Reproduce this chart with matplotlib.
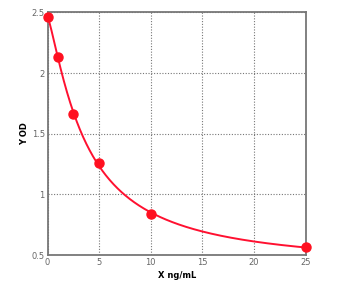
import numpy as np
import matplotlib
matplotlib.use("Agg")
import matplotlib.pyplot as plt

# standard curve points
conc = [0, 1, 2.5, 5, 10, 25]
od = [2.46, 2.13, 1.66, 1.256, 0.84, 0.563]

x_ticks = [0, 5, 10, 15, 20, 25]
y_ticks = [0.5, 1, 1.5, 2, 2.5]
y_tick_labels = ["0.5", "1", "1.5", "2", "2.5"]

# four parameter logistic fit: grid over c, b, linear least squares for a, d
x = np.array(conc, float)
y = np.array(od, float)
best = None
for c in np.linspace(1, 15, 141):
    for b in np.linspace(0.5, 3, 126):
        g = 1.0 / (1.0 + (x / c) ** b)
        A = np.column_stack([g, 1 - g])
        coef, *_ = np.linalg.lstsq(A, y, rcond=None)
        err = np.sum((A @ coef - y) ** 2)
        if best is None or err < best[0]:
            best = (err, c, b, coef)
_, c, b, (a, d) = best

xs = np.linspace(0, 25, 400)
gs = 1.0 / (1.0 + (xs / c) ** b)
ys = a * gs + d * (1 - gs)

fig = plt.figure(figsize=(3.4, 2.86), dpi=100)
ax = fig.add_axes([0.140, 0.108, 0.759, 0.849])

ax.plot(xs, ys, color="#ff1030", lw=1.4, zorder=3)
ax.plot(conc, od, "o", color="#ff1020", ms=6.5, zorder=4, clip_on=False)

ax.set_xlim(0, 25)
ax.set_ylim(0.5, 2.5)
ax.set_xticks(x_ticks)
ax.set_yticks(y_ticks)
ax.set_yticklabels(y_tick_labels)
ax.grid(True, ls=(0, (1, 1.5)), color="#777777", lw=0.8)
ax.tick_params(length=0, labelsize=6, labelcolor="#666666", pad=2)

for s in ax.spines.values():
    s.set_color("#777777")
    s.set_linewidth(1.3)

ax.set_xlabel("X ng/mL", fontsize=6, fontweight="bold", labelpad=3)
ax.set_ylabel("Y OD", fontsize=6, fontweight="bold", labelpad=2)

fig.savefig("out.png", dpi=100)
